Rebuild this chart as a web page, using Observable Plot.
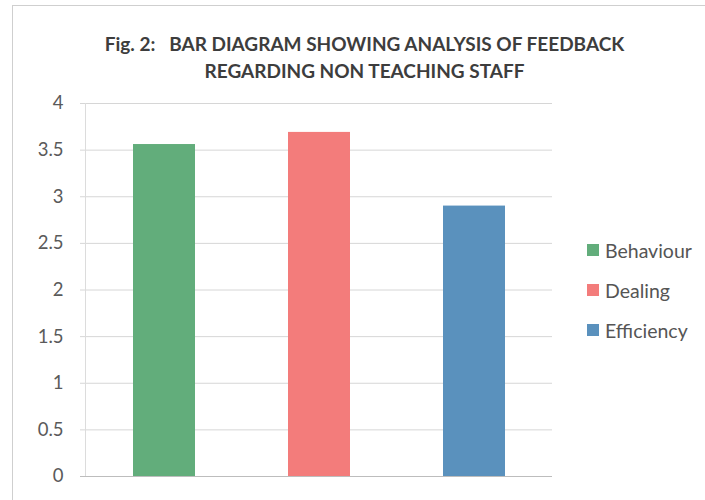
<!DOCTYPE html>
<html>
<head>
<meta charset="utf-8">
<script src="https://cdn.jsdelivr.net/npm/d3@7"></script>
<script src="https://cdn.jsdelivr.net/npm/@observablehq/plot@0.6"></script>
<style>
  html, body { margin: 0; padding: 0; background: #fff; }
  #wrap { position: relative; width: 705px; height: 500px; overflow: hidden; font-family: Lato, "Open Sans", sans-serif; }
  #frame { position: absolute; left: 12px; top: 5px; width: 720px; height: 520px; border-left: 1.5px solid #cfcfcf; border-top: 1.5px solid #cfcfcf; }
  #title { position: absolute; left: 12px; width: 705px; top: 30px; text-align: center; font-weight: bold; font-size: 19px; line-height: 27px; color: #3d3d3d; white-space: pre; z-index: 2; }
  #legend { position: absolute; left: 587px; top: 238px; font-size: 19.5px; color: #555; z-index: 2; }
  #legend .item { display: flex; align-items: center; height: 24px; margin-bottom: 16px; }
  #legend .sw { width: 12px; height: 12px; margin-right: 6px; }
  svg { position: absolute; left: 0; top: 0; }
</style>
</head>
<body>
<div id="wrap">
  <div id="frame"></div>
  <div id="title">Fig. 2:   BAR DIAGRAM SHOWING ANALYSIS OF FEEDBACK
REGARDING NON TEACHING STAFF</div>
  <div id="legend"></div>
</div>
<script>
const categories = ["Behaviour", "Dealing", "Efficiency"];
const values = [3.56, 3.69, 2.9];
const colors = ["#62ad7b", "#f37c7b", "#5a91bd"];
const yTicks = [0, 0.5, 1, 1.5, 2, 2.5, 3, 3.5, 4];

const data = categories.map((c, i) => ({category: c, value: values[i]}));

const plot = Plot.plot({
  width: 705,
  height: 500,
  marginTop: 103,
  marginBottom: 24,
  marginLeft: 85,
  marginRight: 153,
  style: {fontFamily: "Lato, 'Open Sans', sans-serif", fontSize: "18.5px", color: "#5a5a5a", background: "transparent"},
  x: {domain: categories, paddingInner: 0.6, paddingOuter: 0.3, axis: null},
  y: {domain: [0, 4], label: null},
  color: {domain: categories, range: colors},
  marks: [
    Plot.gridY(yTicks, {stroke: "#d6d6d6", strokeOpacity: 1, strokeWidth: 1}),
    Plot.axisY(yTicks, {tickFormat: d => String(d), tickSize: 5, tickPadding: 17, stroke: "#d6d6d6", label: null}),
    Plot.frame({anchor: "left", stroke: "#dcdcdc"}),
    Plot.barY(data, {x: "category", y: "value", fill: "category"}),
    Plot.ruleY([0], {stroke: "#bdbdbd", strokeWidth: 1.2, insetLeft: -5})
  ]
});
document.getElementById("wrap").appendChild(plot);

const color = plot.scale("color");
const legend = document.getElementById("legend");
categories.forEach(c => {
  const item = document.createElement("div");
  item.className = "item";
  const sw = document.createElement("span");
  sw.className = "sw";
  sw.style.background = color.apply(c);
  const t = document.createElement("span");
  t.textContent = c;
  item.appendChild(sw); item.appendChild(t);
  legend.appendChild(item);
});
</script>
</body>
</html>
